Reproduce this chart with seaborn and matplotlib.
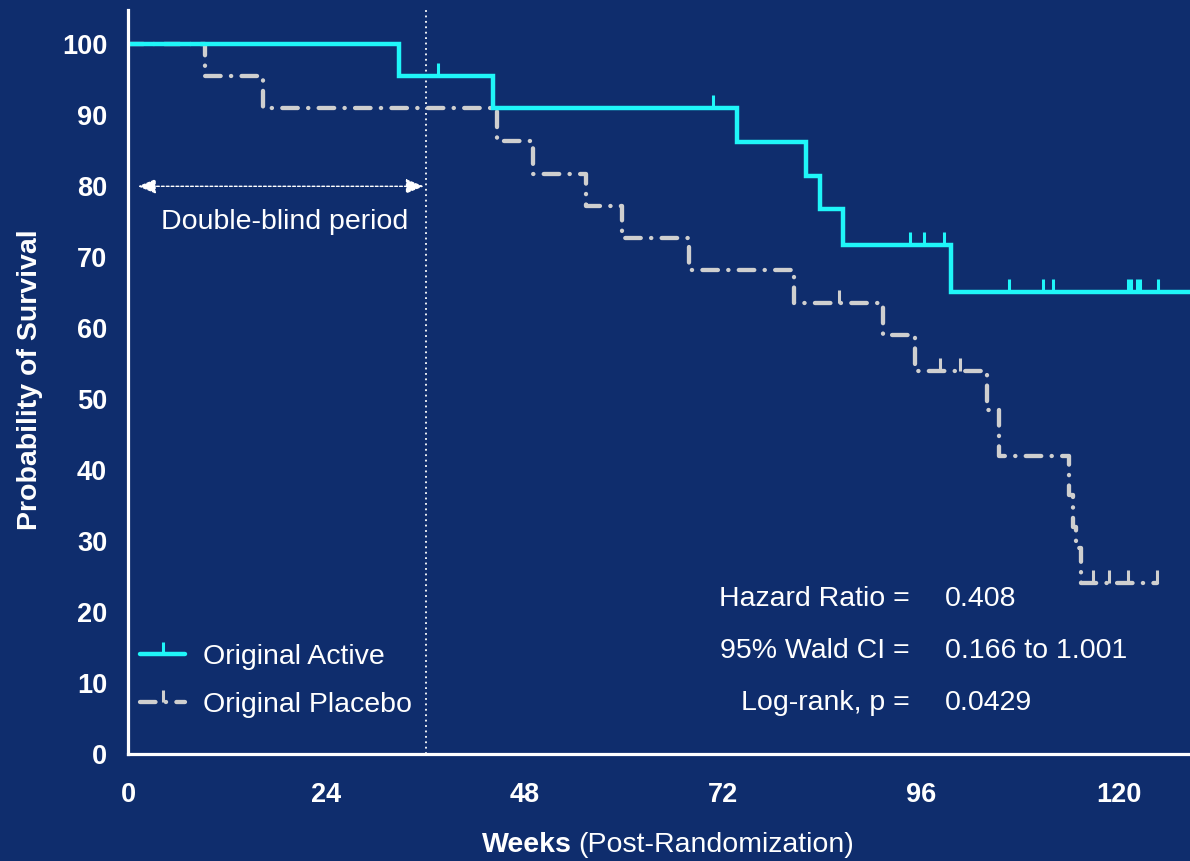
import matplotlib
matplotlib.use("Agg")
import matplotlib.pyplot as plt
from matplotlib.lines import Line2D
import seaborn as sns
import pandas as pd

# step curves (weeks, % surviving)
active_weeks = [0, 32.8, 44.2, 73.7, 82.1, 83.8, 86.6, 99.6, 130]
active_surv = [100, 95.6, 91.1, 86.3, 81.5, 76.8, 71.7, 65.1, 65.1]
placebo_weeks = [0, 9.3, 16.3, 44.7, 49.0, 55.4, 59.8, 67.9, 80.6, 91.4, 95.3,
                 104.0, 105.5, 114.0, 114.4, 114.8, 115.4, 124.6]
placebo_surv = [100, 95.5, 91.0, 86.4, 81.8, 77.2, 72.7, 68.2, 63.6, 59.0, 54.0,
                48.5, 42.0, 36.5, 32.0, 29.0, 24.1, 24.1]

# censored observations
active_cens_weeks = [37.5, 70.8, 94.7, 96.4, 98.8, 106.7, 110.8, 112.0,
                     121.1, 121.5, 122.2, 122.6, 124.7]
active_cens_surv = [95.6, 91.1, 71.7, 71.7, 71.7, 65.1, 65.1, 65.1,
                    65.1, 65.1, 65.1, 65.1, 65.1]
placebo_cens_weeks = [86.1, 98.3, 100.7, 116.8, 118.8, 121.1, 124.6]
placebo_cens_surv = [63.6, 54.0, 54.0, 24.1, 24.1, 24.1, 24.1]

x_ticks = [0, 24, 48, 72, 96, 120]
y_ticks = list(range(0, 101, 10))
blind_end = 36.1

stats_labels = ["Hazard Ratio =", "95% Wald CI =", "Log-rank, p ="]
stats_values = ["0.408", "0.166 to 1.001", "0.0429"]

bg = "#0f2d6d"
cyan = "#1ff6f9"
grey = "#cfcfcf"
fs = 20.5

sns.set_style("white")
plt.rcParams["font.family"] = ["Liberation Sans", "DejaVu Sans"]

fig = plt.figure(figsize=(11.9, 8.61), dpi=100, facecolor=bg)
ax = fig.add_axes([0.1076, 0.1243, 0.8924, 0.8637])
ax.set_facecolor(bg)

act = pd.DataFrame({"weeks": active_weeks, "surv": active_surv})
pla = pd.DataFrame({"weeks": placebo_weeks, "surv": placebo_surv})
act_c = pd.DataFrame({"weeks": active_cens_weeks, "surv": active_cens_surv})
pla_c = pd.DataFrame({"weeks": placebo_cens_weeks, "surv": placebo_cens_surv})

dash = (0, (3.6, 2.4, 0.05, 2.4))
tick_marker = [(0, 0), (0, 1)]

sns.lineplot(data=pla, x="weeks", y="surv", ax=ax, estimator=None, color=grey,
             lw=3.1, linestyle=dash, dash_capstyle="round", drawstyle="steps-post")
sns.lineplot(data=act, x="weeks", y="surv", ax=ax, estimator=None, color=cyan,
             lw=3.2, drawstyle="steps-post", solid_joinstyle="miter")
sns.scatterplot(data=pla_c, x="weeks", y="surv", ax=ax, marker=tick_marker, s=330,
                color=grey, edgecolor=grey, linewidth=2.2, zorder=3)
sns.scatterplot(data=act_c, x="weeks", y="surv", ax=ax, marker=tick_marker, s=330,
                color=cyan, edgecolor=cyan, linewidth=2.2, zorder=4)

# double-blind period
ax.axvline(blind_end, color="white", lw=1.3, ls=(0, (1, 2)), zorder=1)
ax.annotate("", xy=(1.2, 80), xytext=(blind_end - 0.3, 80),
            arrowprops=dict(arrowstyle="<|-|>,head_length=1.1,head_width=0.45",
                            color="white", lw=1.0, ls=(0, (2, 1.5)),
                            shrinkA=0, shrinkB=0))
ax.text(19.0, 74.9, "Double-blind period", color="white", fontsize=fs,
        ha="center", va="center")

for i, (lab, val) in enumerate(zip(stats_labels, stats_values)):
    yy = 21.8 - i * 7.3
    ax.text(94.7, yy, lab, color="white", fontsize=fs, ha="right", va="center")
    ax.text(98.9, yy, val, color="white", fontsize=fs, ha="left", va="center")

handles = [
    Line2D([], [], color=cyan, lw=3.2, marker=tick_marker, markersize=18,
           markeredgewidth=2.2, markeredgecolor=cyan),
    Line2D([], [], color=grey, lw=3.1, linestyle=dash, dash_capstyle="round",
           marker=tick_marker, markersize=18, markeredgewidth=2.2, markeredgecolor=grey),
]
leg = ax.legend(handles, ["Original Active", "Original Placebo"], loc="lower left",
                bbox_to_anchor=(-0.0128, 0.0134), frameon=False, fontsize=fs,
                labelcolor="white", handlelength=1.58, handletextpad=0.63,
                labelspacing=0.8)

ax.set_xlim(0, 128.6)
ax.set_ylim(0, 104.8)
ax.set_xticks(x_ticks)
ax.set_yticks(y_ticks)
for s in ["top", "right"]:
    ax.spines[s].set_visible(False)
for s in ["left", "bottom"]:
    ax.spines[s].set_color("white")
    ax.spines[s].set_linewidth(2.3)
ax.tick_params(colors="white", width=2.3, length=9, direction="out",
               labelsize=19.5, pad=6)
for lbl in ax.get_xticklabels() + ax.get_yticklabels():
    lbl.set_fontweight("bold")
ax.tick_params(axis="x", pad=11)
ax.set_xlabel("")
ax.set_ylabel("")

fig.text(30 / 1190, 1 - 380 / 861, "Probability of Survival", rotation=90,
         color="white", fontsize=fs, fontweight="bold", ha="center", va="center")
fig.text(572 / 1190, 1 - 845 / 861, "Weeks", color="white", fontsize=fs,
         fontweight="bold", ha="right", va="center")
fig.text(578 / 1190, 1 - 845 / 861, "(Post-Randomization)", color="white",
         fontsize=fs, ha="left", va="center")

fig.savefig("out.png", dpi=100, facecolor=bg)
